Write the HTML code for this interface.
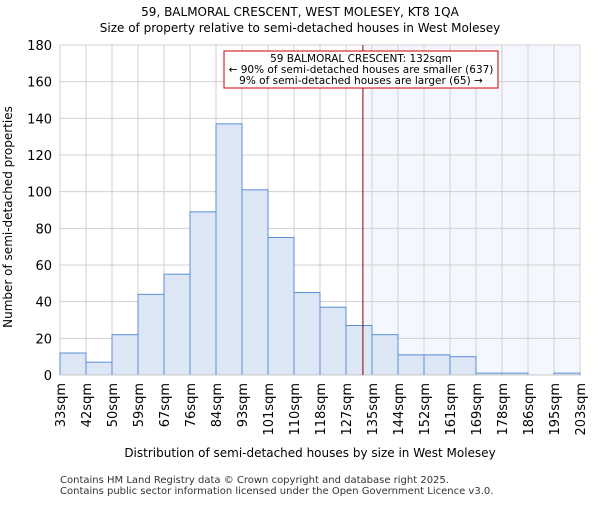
<!DOCTYPE html>
<html><head><meta charset="utf-8"><style>
body{margin:0;background:#fff;}
svg{font-family:"DejaVu Sans","Liberation Sans",sans-serif;}
</style></head><body>
<svg id="c" width="600" height="500" xmlns="http://www.w3.org/2000/svg">
<text x="300" y="16" text-anchor="middle" font-size="12">59, BALMORAL CRESCENT, WEST MOLESEY, KT8 1QA</text>
<text x="300" y="32" text-anchor="middle" font-size="12">Size of property relative to semi-detached houses in West Molesey</text>
<g id="plot"></g>
<text x="310" y="457" text-anchor="middle" font-size="12">Distribution of semi-detached houses by size in West Molesey</text>
<text transform="translate(12,217) rotate(-90)" text-anchor="middle" font-size="12">Number of semi-detached properties</text>
<text x="60" y="483" font-size="10" fill="#333">Contains HM Land Registry data © Crown copyright and database right 2025.</text>
<text x="60" y="494" font-size="10" fill="#333">Contains public sector information licensed under the Open Government Licence v3.0.</text>
</svg>
<script>
const binLabels=["33sqm","42sqm","50sqm","59sqm","67sqm","76sqm","84sqm","93sqm","101sqm","110sqm","118sqm","127sqm","135sqm","144sqm","152sqm","161sqm","169sqm","178sqm","186sqm","195sqm","203sqm"];
const counts=[12,7,22,44,55,89,137,101,75,45,37,27,22,11,11,10,1,1,0,1];
const yTicks=[0,20,40,60,80,100,120,140,160,180];
const propertyBinPos=11.65;
const NS="http://www.w3.org/2000/svg";
const L=60,R=580,T=45,B=375,yMax=180;
const bw=(R-L)/counts.length;
const xs=i=>L+i*bw;
const ys=v=>B-v/yMax*(B-T);
const g=document.getElementById('plot');
function mk(t,a){const e=document.createElementNS(NS,t);for(const k in a)e.setAttribute(k,a[k]);g.appendChild(e);return e;}
const px=xs(propertyBinPos);
let sh=mk('rect',{x:px,y:T,width:R-px,height:B-T,fill:'#f4f7fd'});


yTicks.forEach(t=>{
 let l=mk('line',{x1:L,x2:R,y1:ys(t),y2:ys(t),stroke:'#d0d0d0'});
 
 
 let tx=mk('text',{x:L-8,y:ys(t)+5,'text-anchor':'end','font-size':13});
 tx.textContent=t;
 
 
});
binLabels.forEach((lb,i)=>{
 let l=mk('line',{x1:xs(i),x2:xs(i),y1:T,y2:B,stroke:'#d0d0d0'});
 
 
 let tx=mk('text',{transform:`translate(${xs(i)+5},${B+8}) rotate(-90)`,'text-anchor':'end','font-size':13});
 tx.textContent=lb;
 
 
});
counts.forEach((v,i)=>{
 let r=mk('rect',{x:xs(i),y:ys(v),width:bw,height:B-ys(v),fill:'#dce6f4',stroke:'#5b8fd6','stroke-width':1});
 
 
});
let ax=mk('line',{x1:L,x2:R,y1:B,y2:B,stroke:'#c8c8c8'});


let pl=mk('line',{x1:px,x2:px,y1:T,y2:B,stroke:'#8b0000','stroke-width':1});


let bx=mk('rect',{x:224,y:51,width:274,height:37,fill:'#fff',stroke:'#cc0000'});


["59 BALMORAL CRESCENT: 132sqm","← 90% of semi-detached houses are smaller (637)","9% of semi-detached houses are larger (65) →"].forEach((s,i)=>{
 let t=mk('text',{x:361,y:62+i*11,'text-anchor':'middle','font-size':10.5});
 t.textContent=s;
 
 
});
</script>
</body></html>
